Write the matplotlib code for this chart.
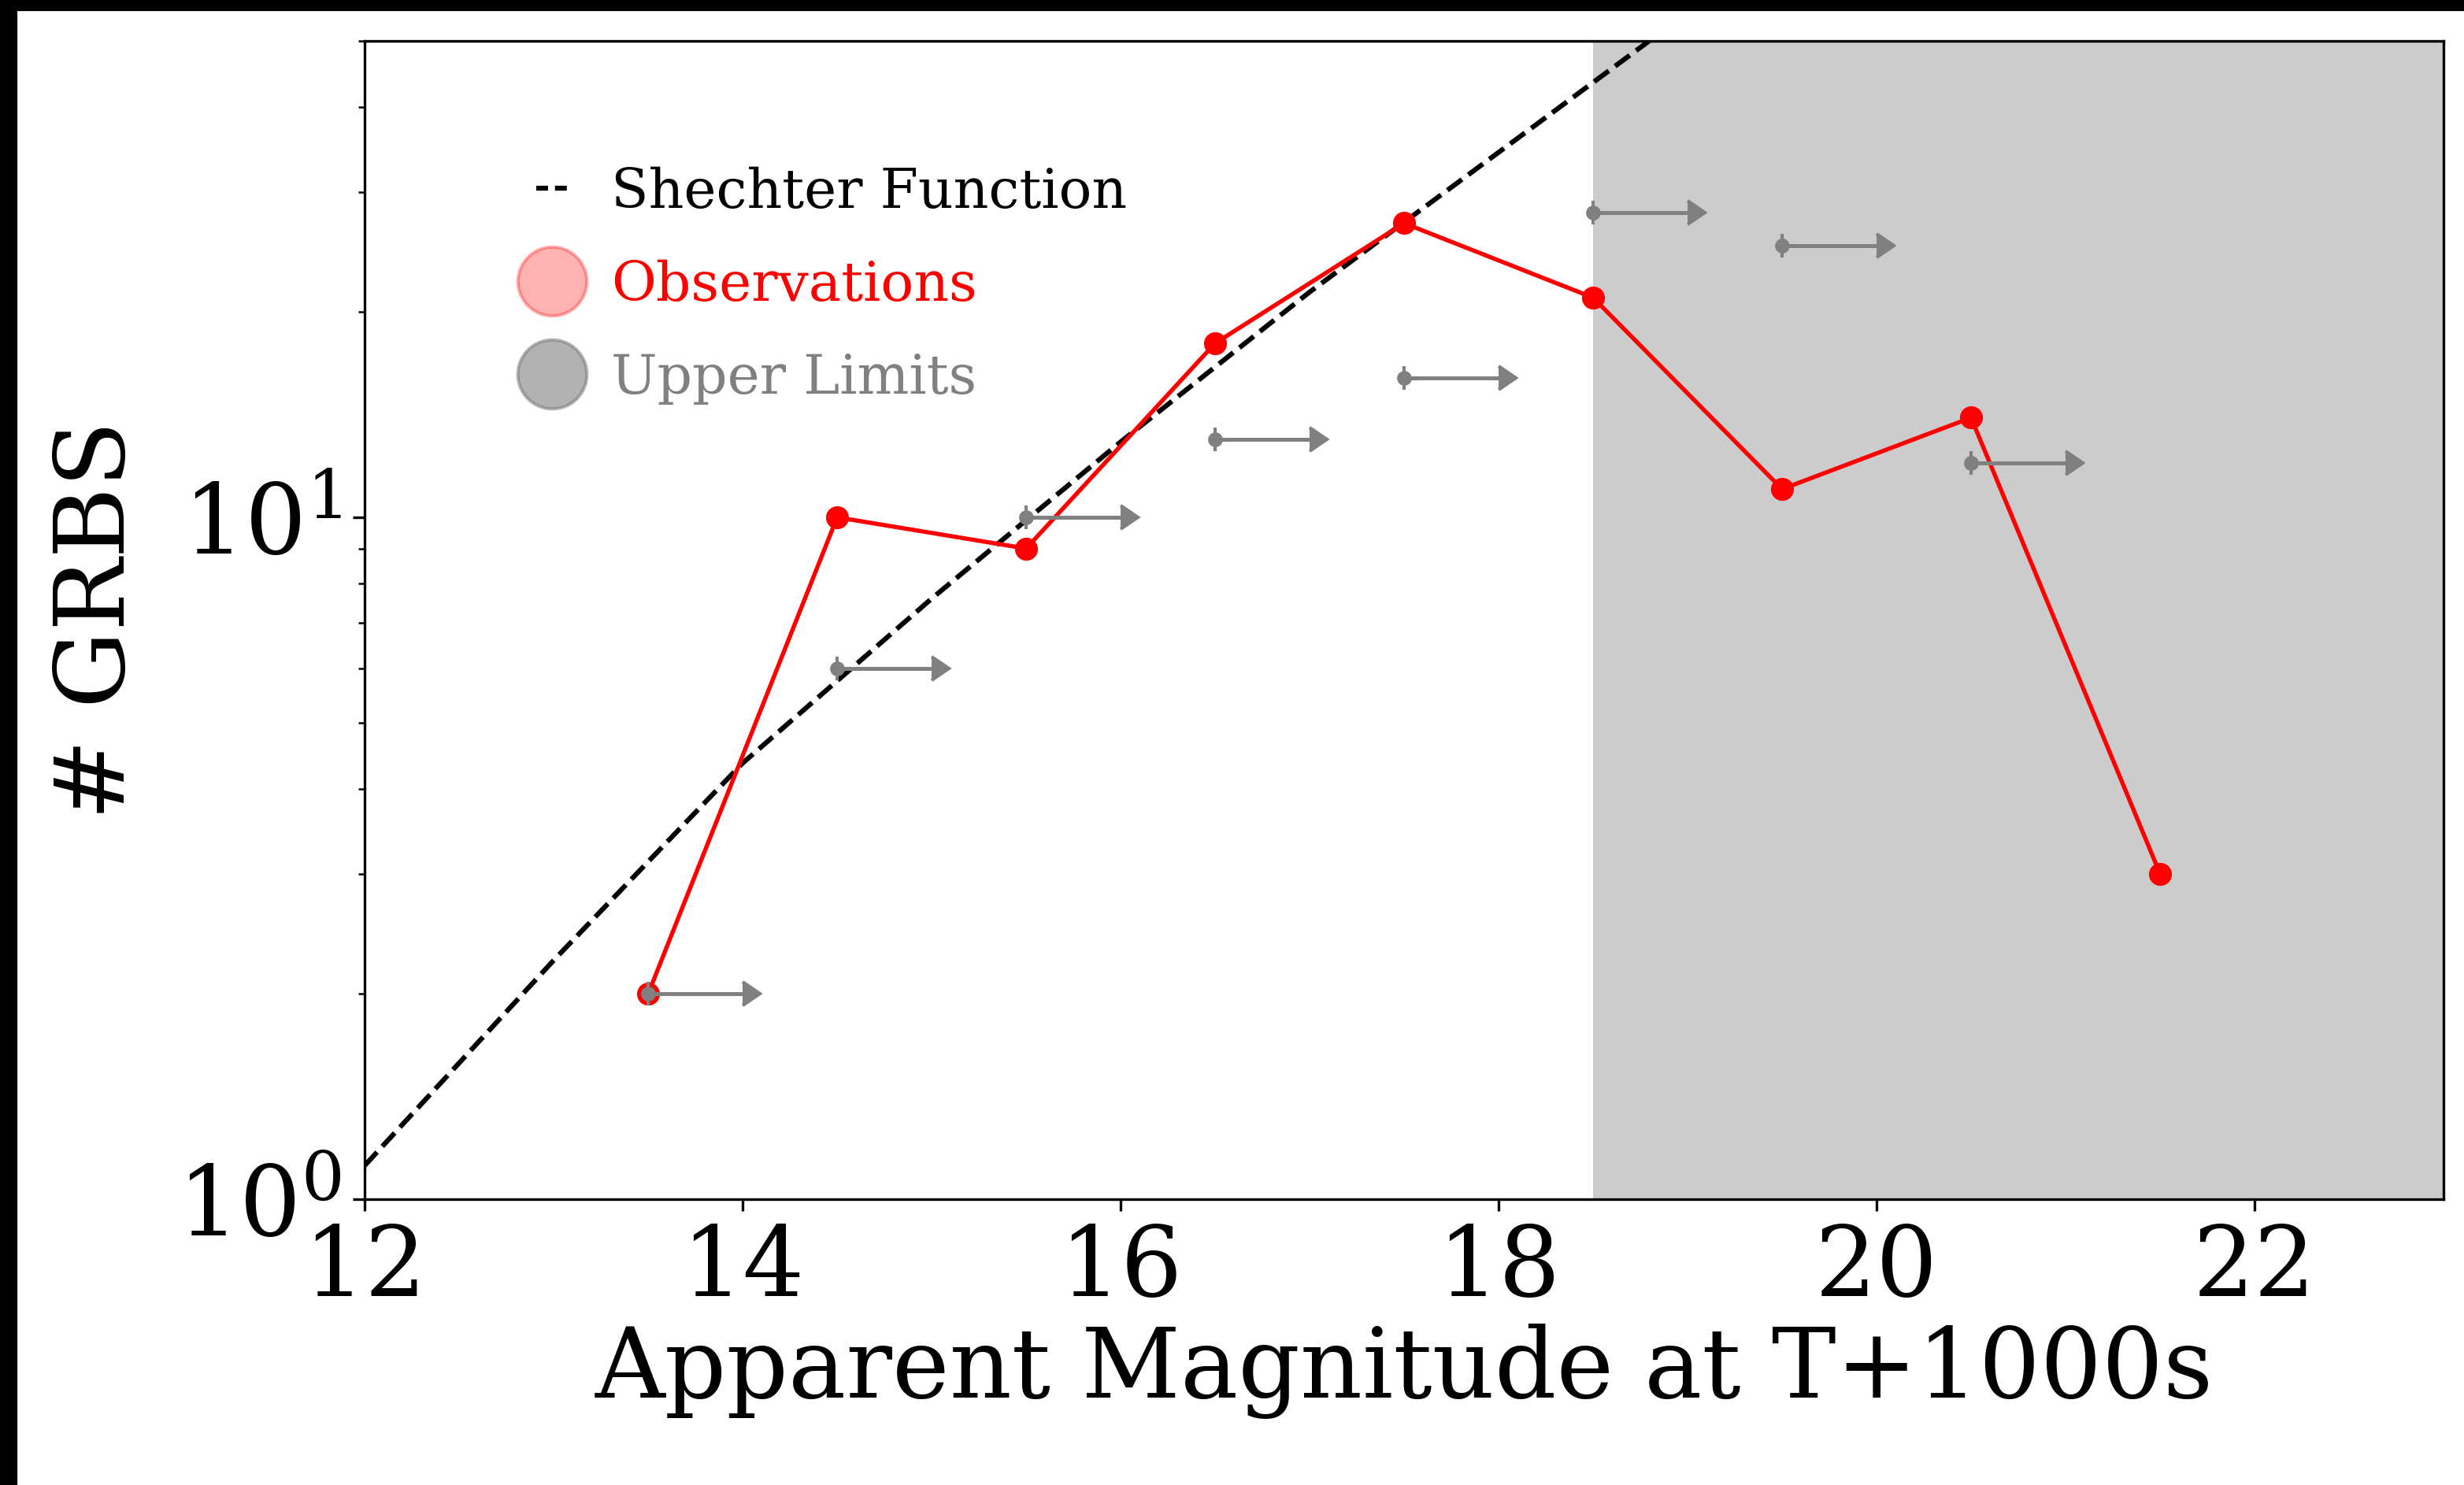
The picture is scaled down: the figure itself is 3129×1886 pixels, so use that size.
import matplotlib
matplotlib.use("Agg")
import matplotlib.pyplot as plt
from matplotlib.lines import Line2D
from matplotlib.patches import Rectangle

plt.rcParams['font.family'] = 'DejaVu Serif'
plt.rcParams['mathtext.fontset'] = 'dejavuserif'

# magnitude bins (bin centres) and GRB counts
mag_bins = [13.5, 14.5, 15.5, 16.5, 17.5, 18.5, 19.5, 20.5, 21.5]
obs_counts = [2, 10, 9, 18, 27, 21, 11, 14, 3]

# upper limits: bin centre and count
ul_mags = [13.5, 14.5, 15.5, 16.5, 17.5, 18.5, 19.5, 20.5]
ul_counts = [2, 6, 10, 13, 16, 28, 25, 12]
ul_len = 0.5

# Schechter curve sampled along magnitude
sch_mags = [12, 13, 14, 15, 16, 17, 18, 19]
sch_counts = [1.12, 2.24, 4.36, 7.6, 12.9, 21.4, 34.3, 55]

limit_mag = 18.5

fig = plt.figure(figsize=(10.43, 6.287), dpi=300)
ax = fig.add_axes([0.148, 0.1925, 0.8437, 0.78])

ax.axvspan(limit_mag, 23, color='#cccccc', lw=0, zorder=0)
ax.plot(sch_mags, sch_counts, 'k--', lw=1.5, zorder=2)
ax.plot(mag_bins, obs_counts, '-o', color='red', lw=1.3, ms=6, zorder=3)
ax.errorbar(ul_mags, ul_counts, xerr=ul_len, xlolims=True, fmt='o', color='gray',
            ms=3.5, lw=1.2, capsize=3.5, zorder=4)

ax.set_yscale('log')
ax.set_xlim(12, 23)
ax.set_ylim(1, 50)
ax.set_xticks([12, 14, 16, 18, 20, 22])
ax.tick_params(axis='both', which='major', labelsize=29.5)
ax.set_xlabel('Apparent Magnitude at T+1000s', fontsize=29.5, labelpad=2)
ax.set_ylabel('# GRBS', fontsize=29.5, labelpad=10)

handles = [
    Line2D([], [], color='black', ls='--', lw=1.5, dashes=(2.4, 1.4)),
    Line2D([], [], color='red', marker='o', ls='', ms=21, alpha=0.3),
    Line2D([], [], color='gray', marker='o', ls='', ms=21, alpha=0.6),
]
ax.legend(handles, ['Shechter Function', 'Observations', 'Upper Limits'],
          loc='upper left', bbox_to_anchor=(0.059, 0.934), frameon=False,
          fontsize=16.7, handlelength=0.56, handletextpad=0.8,
          labelspacing=0.74, labelcolor=['black', 'red', 'gray'])

# dark frame strips along the top and left edges
fig.patches.append(Rectangle((0, 1 - 12 / 1886), 1, 12 / 1886, transform=fig.transFigure,
                             color='black', zorder=10))
fig.patches.append(Rectangle((0, 0), 20 / 3129, 1, transform=fig.transFigure,
                             color='black', zorder=10))

fig.savefig('out.png', dpi=300)
